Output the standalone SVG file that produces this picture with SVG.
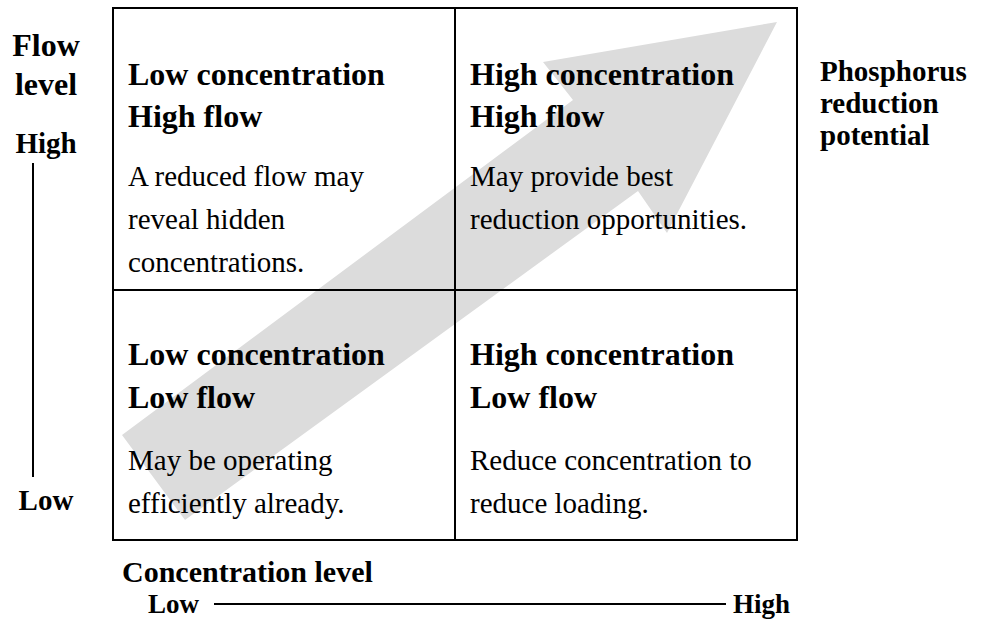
<svg xmlns="http://www.w3.org/2000/svg" width="984" height="635" viewBox="0 0 984 635">
<style>
text{font-family:"Liberation Serif","Times New Roman",serif;fill:#000}
.t{font-size:32px;font-weight:bold}
.b{font-size:29px}
.fl{font-size:32px;font-weight:bold}
.ax{font-size:30px;font-weight:bold}
.axs{font-size:29px;font-weight:bold}
.axb{font-size:27px;font-weight:bold}
.ph{font-size:29px;font-weight:bold}
.ln{stroke:#000;stroke-width:2;fill:none}
</style>
<rect width="984" height="635" fill="#fff"/>
<g id="trend-arrow">
<polygon points="122,435 573,100 543,62 777,22 667,233 638,191 185,520" fill="#dcdcdc"/>
</g>
<g id="grid">
<rect x="113" y="8" width="684" height="532" class="ln"/>
<line x1="455" y1="8" x2="455" y2="540" class="ln"/>
<line x1="113" y1="290" x2="797" y2="290" class="ln"/>
</g>
<g id="q-low-conc-high-flow">
<text class="t" x="128" y="85">Low concentration</text>
<text class="t" x="128" y="127">High flow</text>
<text class="b" x="128" y="186">A reduced flow may</text>
<text class="b" x="128" y="229">reveal hidden</text>
<text class="b" x="128" y="272">concentrations.</text>
</g>
<g id="q-high-conc-high-flow">
<text class="t" x="470" y="85">High concentration</text>
<text class="t" x="470" y="127">High flow</text>
<text class="b" x="470" y="186">May provide best</text>
<text class="b" x="470" y="229">reduction opportunities.</text>
</g>
<g id="q-low-conc-low-flow">
<text class="t" x="128" y="365">Low concentration</text>
<text class="t" x="128" y="408">Low flow</text>
<text class="b" x="128" y="470">May be operating</text>
<text class="b" x="128" y="513">efficiently already.</text>
</g>
<g id="q-high-conc-low-flow">
<text class="t" x="470" y="365">High concentration</text>
<text class="t" x="470" y="408">Low flow</text>
<text class="b" x="470" y="470">Reduce concentration to</text>
<text class="b" x="470" y="513">reduce loading.</text>
</g>
<g id="flow-axis">
<text class="fl" x="46" y="56" text-anchor="middle">Flow</text>
<text class="fl" x="46" y="95" text-anchor="middle">level</text>
<text class="axs" x="46" y="153" text-anchor="middle">High</text>
<text class="axs" x="46" y="510" text-anchor="middle">Low</text>
</g>
<g id="conc-axis">
<text class="ax" x="122" y="582">Concentration level</text>
<text class="axb" x="148" y="613">Low</text>
<text class="axb" x="733" y="613">High</text>
</g>
<g id="phosphorus-label">
<text class="ph" x="820" y="81">Phosphorus</text>
<text class="ph" x="820" y="113">reduction</text>
<text class="ph" x="820" y="145">potential</text>
</g>
<g id="connectors">
<line x1="33" y1="163" x2="33" y2="477" class="ln"/>
<line x1="214" y1="604" x2="726" y2="604" class="ln"/>
</g>
</svg>
